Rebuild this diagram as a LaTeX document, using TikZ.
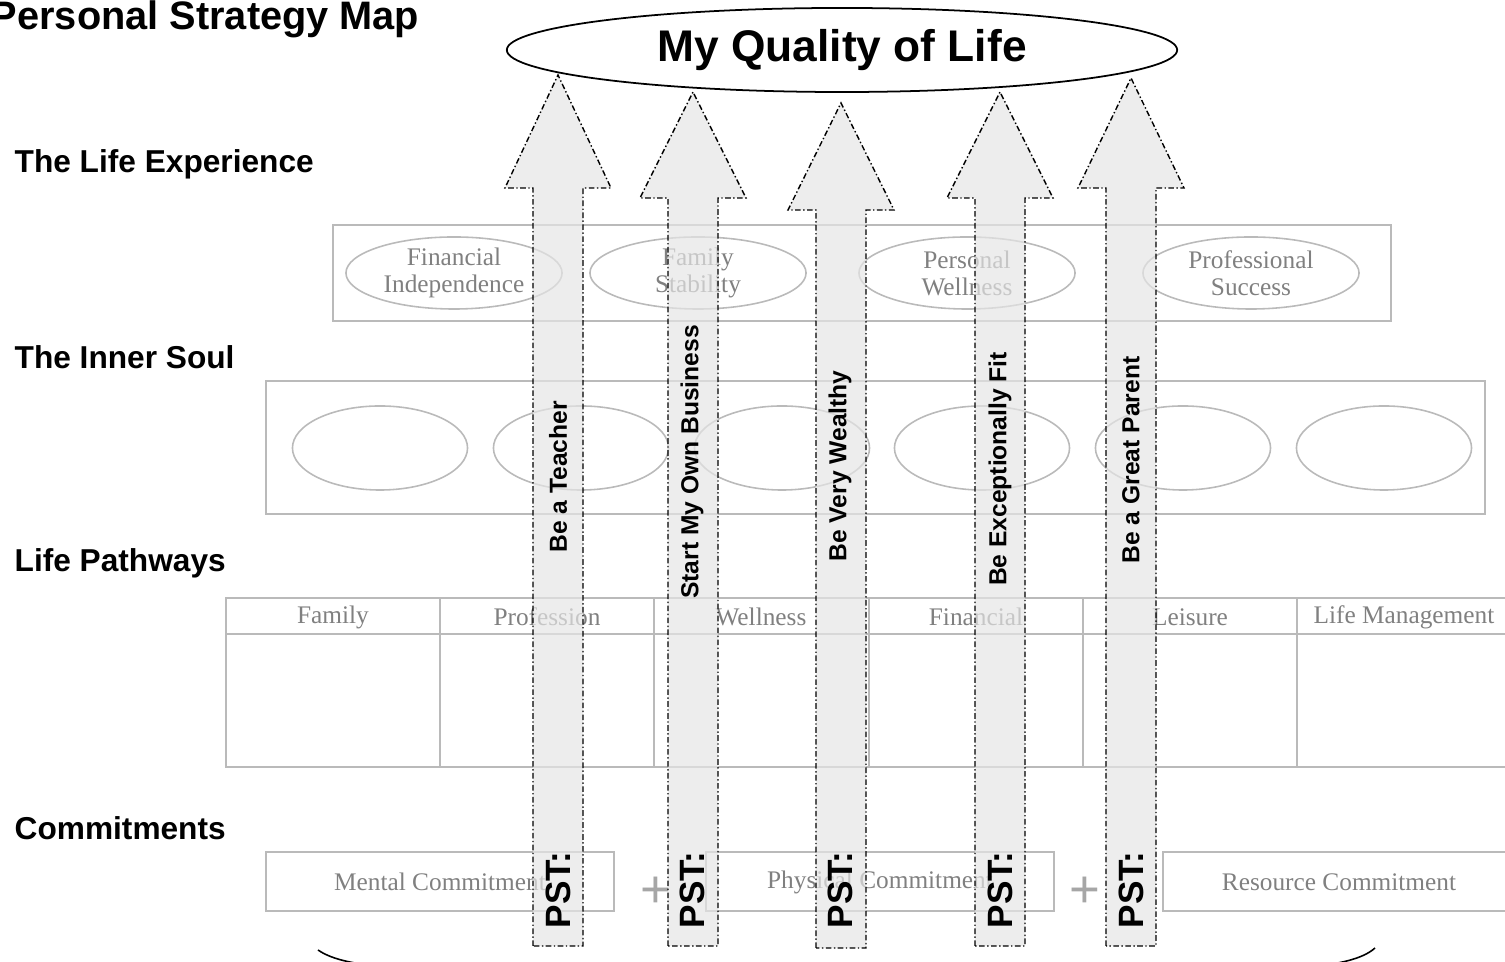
\documentclass[tikz,border=0pt]{standalone}
\usepackage{fontspec}
\setmainfont{Liberation Serif}
\setsansfont{Liberation Sans}
\usetikzlibrary{shapes.geometric}

\begin{document}
\begin{tikzpicture}[x=0.01cm,y=-0.01cm,
    soft/.style={draw=black!27,line width=0.45pt},
    softtext/.style={text=black!50,font=\fontsize{7.2}{7.7}\selectfont,align=center,inner sep=0pt},
    goal/.style={soft,ellipse,minimum width=2.16cm,minimum height=0.72cm,softtext},
    soul/.style={soft,ellipse,minimum width=1.75cm,minimum height=0.84cm,inner sep=0pt},
    pst/.style={draw=black,line width=0.4pt,dash pattern=on 1.6pt off 0.7pt on 0.4pt off 0.7pt,fill=black!10,fill opacity=0.7},
    level/.style={anchor=west,inner sep=0pt,font=\sffamily\bfseries\fontsize{9}{11}\selectfont},
    aim/.style={rotate=90,inner sep=0pt,font=\sffamily\bfseries\fontsize{7}{8}\selectfont},
    psttext/.style={rotate=90,inner sep=0pt,font=\sffamily\bfseries\fontsize{10}{12}\selectfont},
    plus/.style={inner sep=0pt,text=black!35,font=\sffamily\fontsize{15}{16}\selectfont}]
    \useasboundingbox(0,0)rectangle(1505,962);

    % headings
    \node[anchor=east,inner sep=0pt,font=\sffamily\bfseries\fontsize{11.3}{13}\selectfont](map)at(420,19){Personal Strategy Map};
    \node[level](experience)at(14,164){The Life Experience};
    \node[level](soulhead)at(14,357){The Inner Soul};
    \node[level](pathways)at(14,563){Life Pathways};
    \node[level](commit)at(14,828){Commitments};

    \node[draw,ellipse,line width=0.5pt,minimum width=6.7cm,minimum height=0.84cm,inner sep=0pt,font=\sffamily\bfseries\fontsize{12.6}{15}\selectfont](quality)at(842,50){My Quality of Life};

    % the life experience
    \draw[soft](333,225)rectangle(1391,321);
    \node[goal](finance)at(454,273){Financial\\Independence};
    \node[goal](family)at(698,273){Family\\Stability};
    \node[goal](wellness)at(967,273){Personal\\Wellness};
    \node[goal](success)at(1251,273){Professional\\Success};

    % the inner soul
    \draw[soft](266,381)rectangle(1485,514);
    \node[soul](soul1)at(380,448){};
    \node[soul](soul2)at(581,448){};
    \node[soul](soul3)at(782,448){};
    \node[soul](soul4)at(982,448){};
    \node[soul](soul5)at(1183,448){};
    \node[soul](soul6)at(1384,448){};

    % life pathways
    \draw[soft](226,598)rectangle(1512,767);
    \draw[soft](226,634)--(1512,634);
    \draw[soft](440,598)--(440,767);
    \draw[soft](654,598)--(654,767);
    \draw[soft](869,598)--(869,767);
    \draw[soft](1083,598)--(1083,767);
    \draw[soft](1297,598)--(1297,767);
    \node[softtext](pfamily)at(333,617){Family};
    \node[softtext](pprof)at(547,617){Profession};
    \node[softtext](pwell)at(761,617){Wellness};
    \node[softtext](pfin)at(976,617){Financial};
    \node[softtext](pleis)at(1190,617){Leisure};
    \node[softtext](pmgmt)at(1404,617){Life Management};

    % commitments
    \draw[soft](266,852)rectangle(614,911);
    \draw[soft](706,852)rectangle(1054,911);
    \draw[soft](1163,852)rectangle(1512,911);
    \node[softtext](mental)at(440,882){Mental Commitment};
    \node[softtext](physical)at(880,882){Physical Commitment};
    \node[softtext](resource)at(1339,882){Resource Commitment};
    \node[plus](plus1)at(656,892){+};
    \node[plus](plus2)at(1085,892){+};

    \draw[line width=0.45pt](318,950)..controls(335,962)and(370,968)..(430,968)--(1270,968)..controls(1330,968)and(1362,960)..(1375,948);

    % strategy arrows
    \draw[pst](533,946)--(533,188)--(505,188)--(558,75)--(611,188)--(583,188)--(583,946)--cycle;
    \draw[pst](668,946)--(668,198)--(640,198)--(693,92)--(746,198)--(718,198)--(718,946)--cycle;
    \draw[pst](816,948)--(816,210)--(788,210)--(841,103)--(894,210)--(866,210)--(866,948)--cycle;
    \draw[pst](975,946)--(975,198)--(947,198)--(1000,92)--(1053,198)--(1025,198)--(1025,946)--cycle;
    \draw[pst](1106,946)--(1106,188)--(1078,188)--(1131,78)--(1184,188)--(1156,188)--(1156,946)--cycle;

    \node[aim](teacher)at(558,477){Be a Teacher};
    \node[aim](business)at(692,462){Start My Own Business};
    \node[aim](wealthy)at(840,466){Be Very Wealthy};
    \node[aim](fit)at(1000,469){Be Exceptionally Fit};
    \node[aim](parent)at(1131,460){Be a Great Parent};

    \node[psttext](pst1)at(558,890){PST:};
    \node[psttext](pst2)at(692,890){PST:};
    \node[psttext](pst3)at(840,890){PST:};
    \node[psttext](pst4)at(1000,890){PST:};
    \node[psttext](pst5)at(1131,890){PST:};
\end{tikzpicture}
\end{document}
